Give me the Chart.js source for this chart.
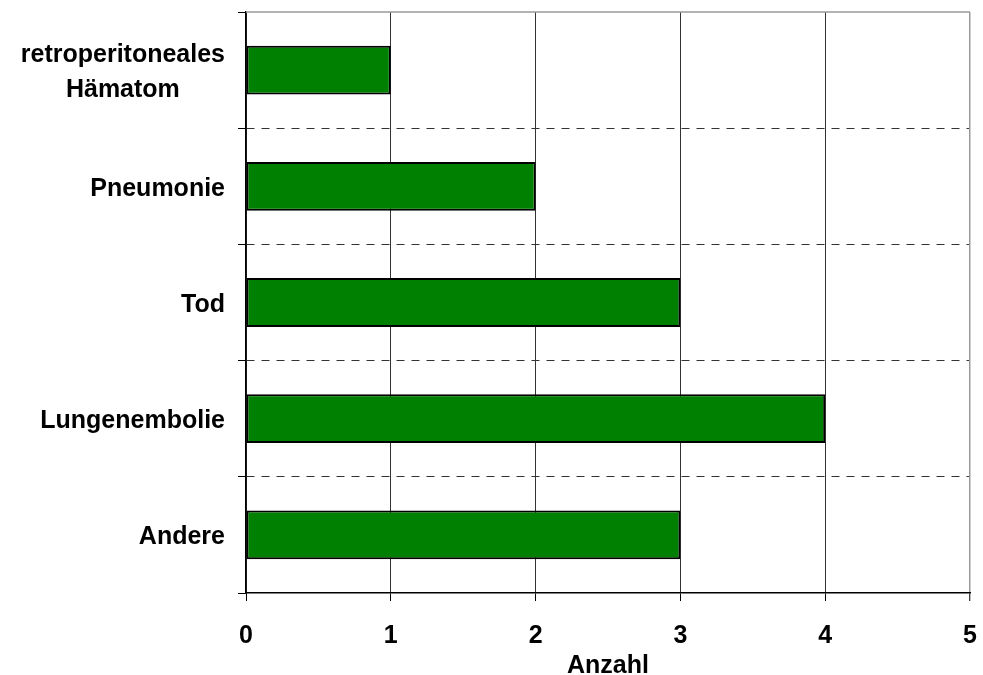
<!DOCTYPE html>
<html>
<head>
<meta charset="utf-8">
<script src="https://cdn.jsdelivr.net/npm/chart.js@4/dist/chart.umd.min.js"></script>
<style>
  html, body { margin: 0; padding: 0; background: #fff; }
  #wrap { width: 983px; height: 675px; }
</style>
</head>
<body>
<div id="wrap"><canvas id="c" width="983" height="675"></canvas></div>
<script>
// Complication categories, top to bottom
const categories = [['retroperitoneales', 'Hämatom'], 'Pneumonie', 'Tod', 'Lungenembolie', 'Andere'];
// Number of cases per category
const counts = [1, 2, 3, 4, 3];
// Value axis ticks
const xTicks = [0, 1, 2, 3, 4, 5];
const axisTitle = 'Anzahl';

const FONT = '"Liberation Sans", Arial, Helvetica, sans-serif';

// Category labels: right-aligned block, multi-line labels centred within their block
const categoryLabels = {
  id: 'categoryLabels',
  afterDraw(chart) {
    const ys = chart.scales.y;
    const ctx = chart.ctx;
    ctx.save();
    ctx.font = 'bold 25px ' + FONT;
    ctx.fillStyle = '#000';
    ctx.textAlign = 'center';
    ctx.textBaseline = 'alphabetic';
    const rightEdge = ys.right - 21;
    const lineGap = 35;
    categories.forEach((lab, i) => {
      const lines = Array.isArray(lab) ? lab : [lab];
      const w = Math.max(...lines.map(l => ctx.measureText(l).width));
      const cx = rightEdge - w / 2;
      const cy = ys.getPixelForTick(i);
      lines.forEach((l, j) => {
        ctx.fillText(l, cx, cy + 9.5 + (j - (lines.length - 1) / 2) * lineGap);
      });
    });
    ctx.restore();
  }
};

// Light frame line along the top of the plot area
const topFrame = {
  id: 'topFrame',
  beforeDatasetsDraw(chart) {
    const a = chart.chartArea;
    const ctx = chart.ctx;
    ctx.save();
    ctx.strokeStyle = '#9a9a9a';
    ctx.lineWidth = 1.5;
    ctx.beginPath();
    ctx.moveTo(a.left, a.top);
    ctx.lineTo(a.right, a.top);
    ctx.stroke();
    ctx.restore();
  }
};

new Chart(document.getElementById('c'), {
  type: 'bar',
  data: {
    labels: categories,
    datasets: [{
      data: counts,
      backgroundColor: '#008000',
      borderColor: '#000',
      borderWidth: 2,
      borderSkipped: false,
      barPercentage: 0.42,
      categoryPercentage: 1
    }]
  },
  options: {
    indexAxis: 'y',
    responsive: false,
    animation: false,
    devicePixelRatio: 1,
    layout: { padding: { top: 12, right: 13, left: 0, bottom: 0 } },
    plugins: {
      legend: { display: false },
      tooltip: { enabled: false }
    },
    scales: {
      y: {
        type: 'category',
        offset: true,
        grid: {
          offset: true,
          color: c => (c.index === undefined || c.index === 0) ? 'rgba(0,0,0,0)' : '#333',
          lineWidth: 1,
          drawTicks: true,
          tickLength: 8,
          tickColor: '#000',
          tickWidth: 1
        },
        border: { display: true, color: '#000', width: 1.5, dash: [8, 7] },
        ticks: { display: false },
        afterFit(s) { s.width = 246; s.paddingTop = 0; s.paddingBottom = 0; }
      },
      x: {
        type: 'linear',
        min: 0,
        max: 5,
        afterBuildTicks(s) { s.ticks = xTicks.map(v => ({ value: v })); },
        ticks: {
          color: '#000',
          padding: 20,
          font: { family: FONT, size: 25, weight: 'bold' }
        },
        grid: {
          color: c => (c.tick && c.tick.value === 5) ? '#9a9a9a' : '#333',
          lineWidth: c => (c.tick && c.tick.value === 5) ? 1.5 : 1,
          tickLength: 8,
          tickColor: '#000',
          tickWidth: 1
        },
        border: { display: true, color: '#000', width: 1.5 },
        title: {
          display: true,
          text: axisTitle,
          color: '#000',
          font: { family: FONT, size: 25, weight: 'bold', lineHeight: 0.72 },
          padding: { top: 0, bottom: 0 }
        },
        afterFit(s) { s.height = 82; s.paddingLeft = 0; s.paddingRight = 0; }
      }
    }
  },
  plugins: [topFrame, categoryLabels]
});
</script>
</body>
</html>
